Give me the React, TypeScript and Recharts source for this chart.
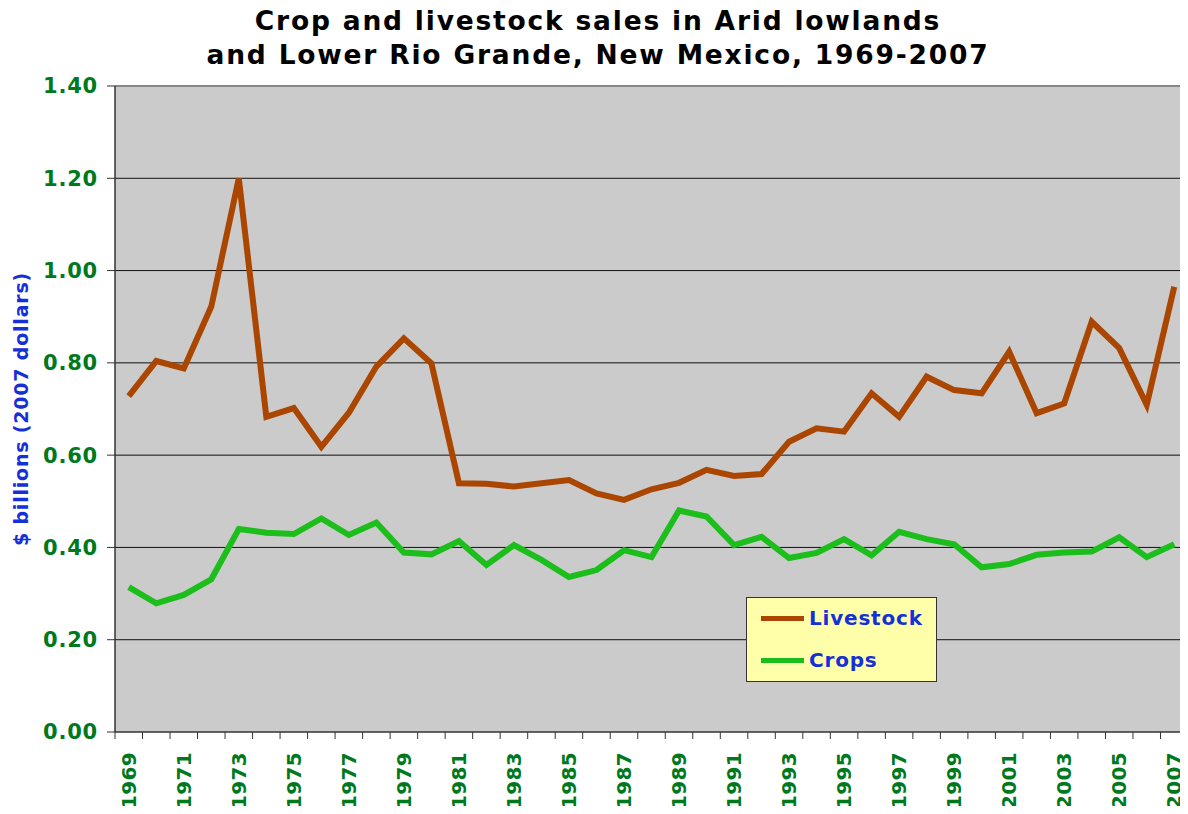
import React from "react";
import {
  LineChart,
  Line,
  XAxis,
  YAxis,
  CartesianGrid,
  ReferenceLine,
} from "recharts";

const years: number[] = [
  1969, 1970, 1971, 1972, 1973, 1974, 1975, 1976, 1977, 1978, 1979, 1980, 1981,
  1982, 1983, 1984, 1985, 1986, 1987, 1988, 1989, 1990, 1991, 1992, 1993, 1994,
  1995, 1996, 1997, 1998, 1999, 2000, 2001, 2002, 2003, 2004, 2005, 2006, 2007,
];

const livestock: number[] = [
  0.728, 0.804, 0.788, 0.922, 1.2, 0.683, 0.702, 0.618, 0.692, 0.792, 0.853,
  0.799, 0.539, 0.538, 0.532, 0.539, 0.546, 0.517, 0.503, 0.526, 0.54, 0.568,
  0.555, 0.559, 0.629, 0.658, 0.651, 0.734, 0.683, 0.77, 0.741, 0.734, 0.824,
  0.691, 0.712, 0.889, 0.832, 0.709, 0.965,
];

const crops: number[] = [
  0.314, 0.279, 0.297, 0.331, 0.44, 0.432, 0.429, 0.463, 0.427, 0.454, 0.389,
  0.385, 0.414, 0.362, 0.405, 0.373, 0.336, 0.351, 0.394, 0.379, 0.48, 0.467,
  0.405, 0.423, 0.377, 0.388, 0.418, 0.383, 0.434, 0.418, 0.407, 0.357, 0.364,
  0.384, 0.389, 0.391, 0.422, 0.379, 0.407,
];

const yTicks: number[] = [0, 0.2, 0.4, 0.6, 0.8, 1.0, 1.2, 1.4];
const gridValues: number[] = [0.2, 0.4, 0.6, 0.8, 1.0, 1.2];

const titleLines: string[] = [
  "Crop and livestock sales in Arid lowlands",
  "and Lower Rio Grande, New Mexico, 1969-2007",
];
const yLabel = "$ billions (2007 dollars)";
const seriesNames: string[] = ["Livestock", "Crops"];

const LIVESTOCK_COLOR = "#AA4600";
const CROPS_COLOR = "#1BBE1B";
const TICK_GREEN = "#00791E";
const LABEL_BLUE = "#1530D8";
const FONT = "'DejaVu Sans', Verdana, sans-serif";

const data = years.map((y, i) => ({
  year: y,
  livestock: livestock[i],
  crops: crops[i],
}));

const xTickValues: number[] = [];
for (let i = 0; i < years.length; i++) {
  xTickValues.push(years[i] - 0.5);
  xTickValues.push(years[i]);
}
xTickValues.push(years[years.length - 1] + 0.5);

const XTick = (props: any) => {
  const { x, y, payload } = props;
  const v = payload.value as number;
  if (!Number.isInteger(v)) {
    return <line x1={x} y1={y} x2={x} y2={y + 7} stroke="#333" strokeWidth={1} />;
  }
  if ((v - years[0]) % 2 !== 0) return <g />;
  return (
    <text
      x={x}
      y={y + 20}
      transform={`rotate(-90, ${x}, ${y + 20})`}
      textAnchor="end"
      dominantBaseline="central"
      fill={TICK_GREEN}
      fontFamily={FONT}
      fontWeight="bold"
      fontSize={20}
      letterSpacing={0.3}
    >
      {v}
    </text>
  );
};

const YLabel = () => (
  <text
    x={21}
    y={409}
    transform="rotate(-90, 21, 409)"
    textAnchor="middle"
    dominantBaseline="central"
    fill={LABEL_BLUE}
    fontFamily={FONT}
    fontWeight="bold"
    fontSize={19}
    letterSpacing={0.8}
  >
    {yLabel}
  </text>
);

const LegendBox = () => (
  <div
    style={{
      position: "absolute",
      left: 746,
      top: 597,
      width: 189,
      height: 83,
      background: "#FFFFAA",
      border: "1px solid #333",
      fontFamily: FONT,
      fontWeight: "bold",
      fontSize: 20,
      letterSpacing: 0.8,
      color: LABEL_BLUE,
      zIndex: 3,
    }}
  >
    {seriesNames.map((n, i) => (
      <div
        key={n}
        style={{
          position: "absolute",
          left: 14,
          top: 8 + i * 42,
          height: 24,
          display: "flex",
          alignItems: "center",
        }}
      >
        <div
          style={{
            width: 43,
            height: 5,
            background: i === 0 ? LIVESTOCK_COLOR : CROPS_COLOR,
            marginRight: 5,
          }}
        />
        <span>{n}</span>
      </div>
    ))}
  </div>
);

export default function App() {
  return (
    <div style={{ margin: -8, width: 1188, height: 814, position: "relative", overflow: "hidden", background: "#fff" }}>
      <div
        style={{
          position: "absolute",
          left: 0,
          top: 4,
          width: 1196,
          textAlign: "center",
          fontFamily: FONT,
          fontWeight: "bold",
          fontSize: 26.5,
          letterSpacing: 1.8,
          lineHeight: "34px",
          color: "#000",
          zIndex: 2,
        }}
      >
        {titleLines.map((t) => (
          <div key={t}>{t}</div>
        ))}
      </div>
      <LineChart
        width={1188}
        height={814}
        data={data}
        margin={{ top: 86, right: 0, bottom: 0, left: 35 }}
      >
        <CartesianGrid
          horizontal={true}
          vertical={false}
          fill="#CBCBCB"
          stroke="#111"
          strokeWidth={1}
          horizontalValues={gridValues}
        />
        <ReferenceLine y={1.4} stroke="#888" strokeWidth={2} />
        <XAxis
          dataKey="year"
          type="number"
          domain={[years[0] - 0.5, years[years.length - 1] + 0.5]}
          ticks={xTickValues}
          interval={0}
          tick={<XTick />}
          tickLine={false}
          tickSize={0}
          tickMargin={0}
          axisLine={{ stroke: "#333", strokeWidth: 1.5 }}
          allowDataOverflow
          height={82}
        />
        <YAxis
          type="number"
          domain={[0, 1.4]}
          ticks={yTicks}
          interval={0}
          width={80}
          tickSize={8}
          tickMargin={9}
          tickFormatter={(v: number) => v.toFixed(2)}
          tick={{ fill: TICK_GREEN, fontFamily: FONT, fontWeight: "bold", fontSize: 21, letterSpacing: 0.8 }}
          tickLine={{ stroke: "#333" }}
          axisLine={{ stroke: "#333", strokeWidth: 1.5 }}
          label={{ content: () => <YLabel /> }}
        />
        <Line
          type="linear"
          dataKey="livestock"
          name={seriesNames[0]}
          stroke={LIVESTOCK_COLOR}
          strokeWidth={6}
          dot={false}
          isAnimationActive={false}
        />
        <Line
          type="linear"
          dataKey="crops"
          name={seriesNames[1]}
          stroke={CROPS_COLOR}
          strokeWidth={6}
          dot={false}
          isAnimationActive={false}
        />
      </LineChart>
      <LegendBox />
    </div>
  );
}
